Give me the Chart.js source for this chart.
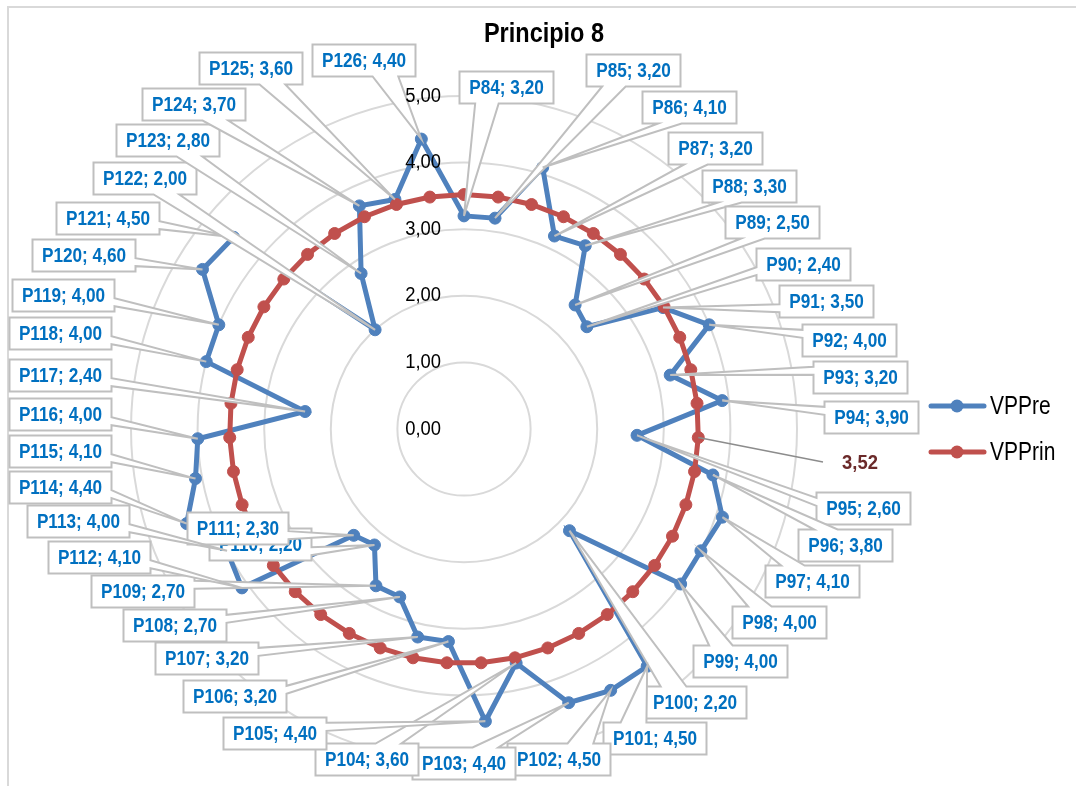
<!DOCTYPE html>
<html>
<head>
<meta charset="utf-8">
<title>Principio 8</title>
<script src="https://cdn.jsdelivr.net/npm/chart.js@4.4.1/dist/chart.umd.min.js"></script>
<style>
  html, body { margin: 0; padding: 0; background: #ffffff; }
  #wrap { width: 1076px; height: 786px; position: relative; }
</style>
</head>
<body>
<div id="wrap"><canvas id="c" width="1076" height="786"></canvas></div>
<script>
// Items of principle 8
const categories = [
  'P84','P85','P86','P87','P88','P89','P90','P91','P92','P93','P94',
  'P95','P96','P97','P98','P99','P100','P101','P102','P103','P104','P105',
  'P106','P107','P108','P109','P110','P111','P112','P113','P114','P115','P116',
  'P117','P118','P119','P120','P121','P122','P123','P124','P125','P126'
];

// Score per item
const vppre = [
  3.2, 3.2, 4.1, 3.2, 3.3, 2.5, 2.4, 3.5, 4.0, 3.2, 3.9,
  2.6, 3.8, 4.1, 4.0, 4.0, 2.2, 4.5, 4.5, 4.4, 3.6, 4.4,
  3.2, 3.2, 2.7, 2.7, 2.2, 2.3, 4.1, 4.0, 4.4, 4.1, 4.0,
  2.4, 4.0, 4.0, 4.6, 4.5, 2.0, 2.8, 3.7, 3.6, 4.4
];

// Principle average, same for every item
const vpprinAverage = 3.52;
const vpprin = categories.map(() => vpprinAverage);

// Radial tick labels
const tickValues = [0, 1, 2, 3, 4, 5];

const seriesNames = ['VPPre', 'VPPrin'];

// Centres of the callout boxes (page layout, in canvas pixels)
const calloutCentres = [
  [506, 87], [633, 70], [689, 107], [715, 148], [749, 186], [772, 222],
  [803, 264], [826, 301], [849, 340], [860, 377], [871, 417],
  [863, 508], [845, 545], [812, 581], [779, 622], [740, 661], [694, 702],
  [654, 738], [558, 759], [463, 763], [366, 759], [274, 733],
  [234, 696], [206, 658], [174, 625], [142, 591], [260, 544], [237, 528],
  [99, 557], [78, 521], [60, 487], [60, 451], [60, 414],
  [60, 375], [60, 333], [63, 295], [83, 255], [107, 218],
  [144, 178], [167, 140], [193, 104], [250, 68], [363, 60]
];
// Average label: which item carries it and where its text sits
const averageLabelIndex = 11;
const averageLabelPos = [860, 462];

const BLUE = '#4F81BD';
const RED = '#C0504D';
const SANS = '"Liberation Sans", Arial, sans-serif';

function fmt(v) {
  return v.toFixed(2).replace('.', ',');
}

// Text in a narrowed face: the sans is squeezed horizontally by sx
function narrowText(ctx, text, x, y, font, sx, align) {
  ctx.save();
  ctx.font = font;
  ctx.textAlign = align;
  ctx.textBaseline = 'middle';
  ctx.translate(x, y);
  ctx.scale(sx, 1);
  ctx.fillText(text, 0, 0);
  ctx.restore();
}
function narrowWidth(ctx, text, font, sx) {
  ctx.save();
  ctx.font = font;
  const w = ctx.measureText(text).width * sx;
  ctx.restore();
  return w;
}

// Rectangle with a wedge tail pointing to (px, py), DrawingML wedgeRectCallout geometry
function wedgePath(ctx, l, t, w, h, px, py) {
  const r = l + w, b = t + h, hc = l + w / 2, vc = t + h / 2;
  const dx = px - hc, dy = py - vc;
  const dq = dx * h / w;
  const dz = Math.abs(dy) - Math.abs(dq);
  const x1 = l + w * (dx > 0 ? 7 : 2) / 12, x2 = l + w * (dx > 0 ? 10 : 5) / 12;
  const y1 = t + h * (dy > 0 ? 7 : 2) / 12, y2 = t + h * (dy > 0 ? 10 : 5) / 12;
  ctx.beginPath();
  ctx.moveTo(l, t);
  if (dz > 0 && dy <= 0) { ctx.lineTo(x1, t); ctx.lineTo(px, py); ctx.lineTo(x2, t); }
  ctx.lineTo(r, t);
  if (dz <= 0 && dx > 0) { ctx.lineTo(r, y1); ctx.lineTo(px, py); ctx.lineTo(r, y2); }
  ctx.lineTo(r, b);
  if (dz > 0 && dy > 0) { ctx.lineTo(x2, b); ctx.lineTo(px, py); ctx.lineTo(x1, b); }
  ctx.lineTo(l, b);
  if (dz <= 0 && dx <= 0) { ctx.lineTo(l, y2); ctx.lineTo(px, py); ctx.lineTo(l, y1); }
  ctx.closePath();
}

const LABEL_FONT = 'bold 20px ' + SANS, LABEL_SX = 0.86;
const TICK_FONT = '20px ' + SANS, TICK_SX = 0.92;
const TITLE_FONT = 'bold 27px ' + SANS, TITLE_SX = 0.87;
const LEGEND_FONT = '25px ' + SANS, LEGEND_SX = 0.84;
const AVG_FONT = 'bold 20px ' + SANS, AVG_SX = 0.92;

const decorations = {
  id: 'decorations',
  beforeDatasetsDraw(chart) {
    const ctx = chart.ctx;
    ctx.save();
    // outer frame of the chart object
    ctx.strokeStyle = '#D9D9D9';
    ctx.lineWidth = 2;
    ctx.strokeRect(8, 7, 1300, 1000);
    ctx.restore();
  },
  afterDatasetsDraw(chart) {
    const ctx = chart.ctx;
    const s = chart.scales.r;
    const pre = chart.getDatasetMeta(0).data;
    const prin = chart.getDatasetMeta(1).data;
    ctx.save();

    // callouts for every VPPre point
    categories.forEach((cat, i) => {
      const text = cat + '; ' + fmt(vppre[i]);
      const w = Math.round(narrowWidth(ctx, text, LABEL_FONT, LABEL_SX) + 19);
      const h = 32;
      const [cx, cy] = calloutCentres[i];
      const l = Math.round(cx - w / 2) + 0.5, t = Math.round(cy - h / 2) + 0.5;
      wedgePath(ctx, l, t, w, h, pre[i].x, pre[i].y);
      ctx.fillStyle = '#FFFFFF';
      ctx.fill();
      ctx.strokeStyle = '#BFBFBF';
      ctx.lineWidth = 2;
      ctx.lineJoin = 'miter';
      ctx.stroke();
      ctx.fillStyle = '#0070C0';
      narrowText(ctx, text, l + w / 2, t + h / 2 + 1, LABEL_FONT, LABEL_SX, 'center');
    });

    // average label with its leader line
    const p = prin[averageLabelIndex];
    const [ax, ay] = averageLabelPos;
    ctx.strokeStyle = '#8C8C8C';
    ctx.lineWidth = 1.5;
    ctx.beginPath();
    ctx.moveTo(p.x, p.y);
    ctx.lineTo(ax - 37, ay);
    ctx.stroke();
    ctx.fillStyle = '#6B2A2A';
    narrowText(ctx, fmt(vpprin[averageLabelIndex]), ax, ay + 1, AVG_FONT, AVG_SX, 'center');

    // radial value labels, left of the vertical axis
    ctx.fillStyle = '#000000';
    tickValues.forEach(v => {
      const y = s.yCenter - s.getDistanceFromCenterForValue(v);
      narrowText(ctx, fmt(v), s.xCenter - 23, y, TICK_FONT, TICK_SX, 'right');
    });

    // title
    ctx.fillStyle = '#000000';
    narrowText(ctx, 'Principio 8', 544, 35, TITLE_FONT, TITLE_SX, 'center');

    // legend
    const legendRows = [[seriesNames[0], BLUE, 406], [seriesNames[1], RED, 452]];
    legendRows.forEach(([name, color, y]) => {
      ctx.strokeStyle = color;
      ctx.lineWidth = 5;
      ctx.lineCap = 'round';
      ctx.beginPath();
      ctx.moveTo(931, y);
      ctx.lineTo(984, y);
      ctx.stroke();
      ctx.fillStyle = color;
      ctx.beginPath();
      ctx.arc(957, y, 6.5, 0, Math.PI * 2);
      ctx.fill();
      ctx.fillStyle = '#000000';
      narrowText(ctx, name, 990, y + 1, LEGEND_FONT, LEGEND_SX, 'left');
    });
    ctx.restore();
  }
};

new Chart(document.getElementById('c'), {
  type: 'radar',
  data: {
    labels: categories,
    datasets: [
      {
        label: seriesNames[0],
        data: vppre,
        borderColor: BLUE,
        backgroundColor: BLUE,
        borderWidth: 5,
        pointRadius: 6,
        pointBorderWidth: 1,
        pointBackgroundColor: BLUE,
        pointBorderColor: BLUE,
        fill: false,
        order: 2
      },
      {
        label: seriesNames[1],
        data: vpprin,
        borderColor: RED,
        backgroundColor: RED,
        borderWidth: 5,
        pointRadius: 6,
        pointBorderWidth: 1,
        pointBackgroundColor: RED,
        pointBorderColor: RED,
        fill: false,
        order: 1
      }
    ]
  },
  options: {
    responsive: false,
    animation: false,
    devicePixelRatio: 1,
    layout: { padding: { left: 131, right: 279, top: 96, bottom: 24 } },
    plugins: {
      legend: { display: false },
      title: { display: false },
      tooltip: { enabled: false }
    },
    scales: {
      r: {
        min: 0,
        max: 5,
        ticks: { display: false, stepSize: 1 },
        grid: { color: '#D9D9D9', lineWidth: 2, circular: true },
        angleLines: { display: false },
        pointLabels: { display: false }
      }
    }
  },
  plugins: [decorations]
});
</script>
</body>
</html>
